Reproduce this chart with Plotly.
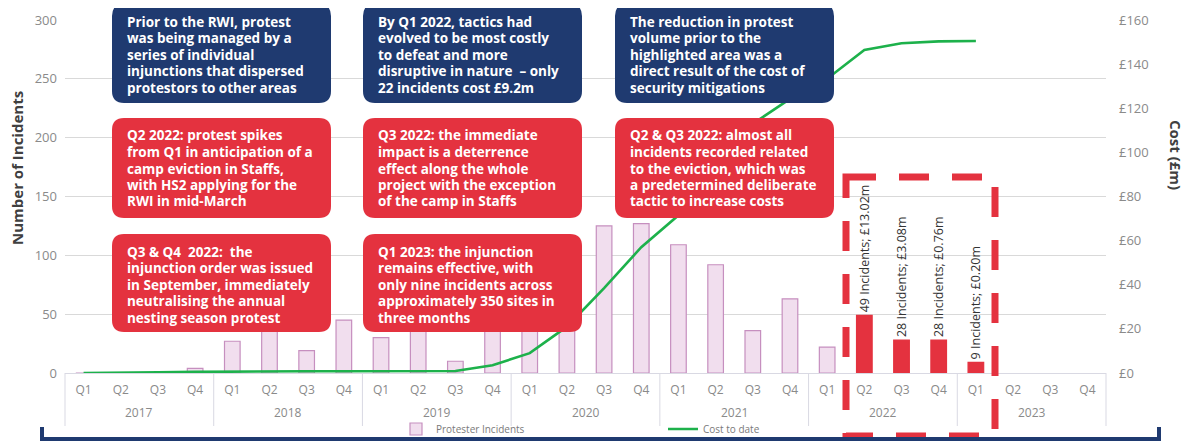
import plotly.graph_objects as go

# ---------------- data ----------------
years = ["2017", "2018", "2019", "2020", "2021", "2022", "2023"]
quarters = ["Q1", "Q2", "Q3", "Q4"]

incidents = [0, 0, 0, 4,
             27, 40, 19, 45,
             30, 45, 10, 52,
             70, 88, 125, 127,
             109, 92, 36, 63,
             22, 49, 28, 28,
             9, None, None, None]

cost_to_date = [0, 0, 0.3, 0.5,
                0.7, 0.8, 0.8, 0.8,
                0.8, 0.8, 0.9, 3.5,
                9.0, 21.0, 38.5, 57.0,
                71.5, 92.0, 113.0, 124.2,
                133.4, 146.4, 149.5, 150.3,
                150.5, None, None, None]

highlight = [False] * 21 + [True, True, True, True] + [False] * 3
bar_labels = [""] * 21 + ["49 Incidents; £13.02m", "28 Incidents; £3.08m",
                          "28 Incidents; £0.76m", "9 Incidents; £0.20m"] + [""] * 3

left_ticks = [0, 50, 100, 150, 200, 250, 300]
right_ticks = [0, 20, 40, 60, 80, 100, 120, 140, 160]
right_tick_text = ["£0", "£20", "£40", "£60", "£80", "£100", "£120", "£140", "£160"]

navy_notes = [
    ["Prior to the RWI, protest", "was being managed by a", "series of individual",
     "injunctions that dispersed", "protestors to other areas"],
    ["By Q1 2022, tactics had", "evolved to be most costly", "to defeat and more",
     "disruptive in nature  \u2013 only", "22 incidents cost £9.2m"],
    ["The reduction in protest", "volume prior to the", "highlighted area was a",
     "direct result of the cost of", "security mitigations"],
]
red_notes_row2 = [
    ["Q2 2022: protest spikes", "from Q1 in anticipation of a", "camp eviction in Staffs,",
     "with HS2 applying for the", "RWI in mid-March"],
    ["Q3 2022: the immediate", "impact is a deterrence", "effect along the whole",
     "project with the exception", "of the camp in Staffs"],
    ["Q2 & Q3 2022: almost all", "incidents recorded related", "to the eviction, which was",
     "a predetermined deliberate", "tactic to increase costs"],
]
red_notes_row3 = [
    ["Q3 & Q4  2022:  the", "injunction order was issued", "in September, immediately",
     "neutralising the annual", "nesting season protest"],
    ["Q1 2023: the injunction", "remains effective, with", "only nine incidents across",
     "approximately 350 sites in", "three months"],
]

# ---------------- styling ----------------
PAGE_OFF = 8  # default body margin of the html page
W, H = 1192 - PAGE_OFF, 443 - PAGE_OFF
ML, MR, MT, MB = 65 - PAGE_OFF, 86, 20 - PAGE_OFF, 70
PW, PH = W - ML - MR, H - MT - MB
NAVY = "#1f3a70"
RED = "#e4323f"
PINK = "#f1deee"
PINK_LINE = "#c68fbf"
GREEN = "#1db14b"
FONT = "Open Sans"
TICK_COLOR = "#8a8a8a"
DIVIDER = "#d9d9e3"


def px(x):
    """page pixel x -> paper x"""
    return (x - PAGE_OFF - ML) / PW


def py(y):
    """page pixel y -> paper y"""
    return (H - MB - (y - PAGE_OFF)) / PH


categories = [f"{y} {q}" for y in years for q in quarters]
quarter_text = [q for _ in years for q in quarters]
n_cat = len(categories)

fig = go.Figure()
fig.add_trace(go.Bar(
    x=categories, y=incidents, name="Protester Incidents",
    marker=dict(color=[RED if h else PINK for h in highlight],
                line=dict(color=[RED if h else PINK_LINE for h in highlight], width=1.2)),
    text=bar_labels, textposition="outside", textangle=-90,
    textfont=dict(family=FONT, size=12.5, color="#333333"),
    constraintext="none", cliponaxis=False,
))
fig.add_trace(go.Scatter(
    x=categories, y=cost_to_date, name="Cost to date", yaxis="y2",
    mode="lines", line=dict(color=GREEN, width=2.6), connectgaps=False,
))

shapes = []
annotations = []


def rrect(x0, y0, x1, y1, r=12):
    return (f"M {px(x0 + r)},{py(y0)} L {px(x1 - r)},{py(y0)} "
            f"Q {px(x1)},{py(y0)} {px(x1)},{py(y0 + r)} L {px(x1)},{py(y1 - r)} "
            f"Q {px(x1)},{py(y1)} {px(x1 - r)},{py(y1)} L {px(x0 + r)},{py(y1)} "
            f"Q {px(x0)},{py(y1)} {px(x0)},{py(y1 - r)} L {px(x0)},{py(y0 + r)} "
            f"Q {px(x0)},{py(y0)} {px(x0 + r)},{py(y0)} Z")


# year group labels and dividers below the category axis
for i, yr in enumerate(years):
    annotations.append(dict(xref="paper", yref="paper", x=(4 * i + 2) / n_cat, y=py(412),
                            text=yr, showarrow=False, xanchor="center", yanchor="middle",
                            font=dict(family=FONT, size=12, color=TICK_COLOR)))
for k in range(len(years) + 1):
    shapes.append(dict(type="line", xref="paper", yref="paper", x0=4 * k / n_cat, x1=4 * k / n_cat,
                       y0=0, y1=py(426), line=dict(color=DIVIDER, width=1), layer="below"))

col_x = [112, 363, 615]
box_w = 219
rows = [(4, 103, NAVY, navy_notes), (118, 218, RED, red_notes_row2), (234, 332, RED, red_notes_row3)]
for (top, bot, color, notes) in rows:
    for ci, lines in enumerate(notes):
        x0 = col_x[ci]
        shapes.append(dict(type="path", xref="paper", yref="paper", path=rrect(x0, top, x0 + box_w, bot),
                           fillcolor=color, line=dict(width=0), layer="above"))
        for li, line in enumerate(lines):
            annotations.append(dict(xref="paper", yref="paper", x=px(x0 + 13), y=py(top + 17.5 + 16.5 * li),
                                    xanchor="left", yanchor="middle", showarrow=False, text=line,
                                    font=dict(family=FONT, size=13.5, color="white", weight=700)))

# red dashed highlight rectangle
shapes.append(dict(type="path", xref="paper", yref="paper",
                   path=f"M {px(846)},{py(177)} H {px(995)} V {py(436)} H {px(846)} Z",
                   line=dict(color=RED, width=7, dash="30px,23px"), layer="above"))
# navy bracket at the bottom
shapes.append(dict(type="path", xref="paper", yref="paper",
                   path=f"M {px(42)},{py(427)} V {py(439)} H {px(1159)} V {py(427)}",
                   line=dict(color=NAVY, width=4), layer="above"))

# axis titles
annotations.append(dict(xref="paper", yref="paper", x=px(17), y=py(168), text="Number of Incidents",
                        textangle=-90, showarrow=False, xanchor="center", yanchor="middle",
                        font=dict(family=FONT, size=15, color="#404040", weight=700)))
annotations.append(dict(xref="paper", yref="paper", x=px(1176), y=py(155), text="Cost (£m)",
                        textangle=90, showarrow=False, xanchor="center", yanchor="middle",
                        font=dict(family=FONT, size=15, color="#404040", weight=700)))

fig.update_layout(
    width=W, height=H, margin=dict(l=ML, r=MR, t=MT, b=MB, pad=0, autoexpand=False),
    paper_bgcolor="white", plot_bgcolor="white",
    bargap=0.58, showlegend=True,
    font=dict(family=FONT, color="#808080"),
    xaxis=dict(type="category", categoryorder="array", categoryarray=categories,
               tickvals=categories, ticktext=quarter_text, range=[-0.5, n_cat - 0.5],
               showline=True, linecolor=DIVIDER, linewidth=1, automargin=False,
               tickfont=dict(family=FONT, size=12, color=TICK_COLOR), showgrid=False, ticks="",
               ticklabelstandoff=6),
    yaxis=dict(range=[0, 300], tickvals=left_ticks, showgrid=True, gridcolor="#d9d9d9", gridwidth=1,
               zeroline=False, showline=False, ticks="", automargin=False, ticklabelstandoff=7,
               tickfont=dict(family=FONT, size=13, color=TICK_COLOR)),
    yaxis2=dict(range=[0, 160], tickvals=right_ticks, ticktext=right_tick_text, overlaying="y", side="right",
                showgrid=False, zeroline=False, showline=False, ticks="", ticklabelstandoff=12,
                automargin=False, tickfont=dict(family=FONT, size=13, color=TICK_COLOR)),
    legend=dict(orientation="h", x=px(396), y=py(429), xanchor="left", yanchor="middle",
                font=dict(family=FONT, size=10, color="#7a7a7a"), bgcolor="rgba(0,0,0,0)",
                entrywidth=222, entrywidthmode="pixels", itemwidth=30),
    shapes=shapes, annotations=annotations,
)

fig.write_html("out.html")
